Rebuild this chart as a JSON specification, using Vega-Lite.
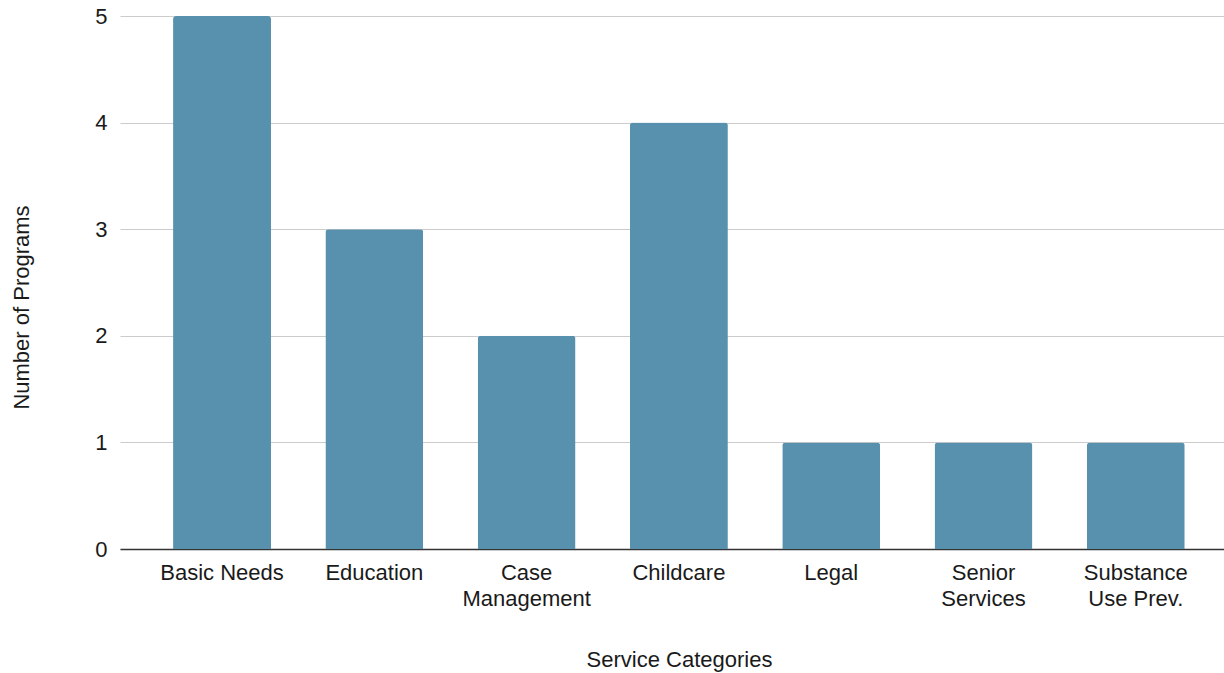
{
  "$schema": "https://vega.github.io/schema/vega-lite/v6.json",
  "width": 1104,
  "height": 533,
  "autosize": {"type": "none"},
  "padding": {"left": 120, "top": 16, "right": 0, "bottom": 124},
  "background": "white",
  "data": {
    "values": [
      {"category": "Basic Needs", "programs": 5},
      {"category": "Education", "programs": 3},
      {"category": "Case Management", "programs": 2},
      {"category": "Childcare", "programs": 4},
      {"category": "Legal", "programs": 1},
      {"category": "Senior Services", "programs": 1},
      {"category": "Substance Use Prev.", "programs": 1}
    ]
  },
  "mark": {
    "type": "bar",
    "color": "#5891ad",
    "cornerRadiusTopLeft": 3,
    "cornerRadiusTopRight": 3
  },
  "encoding": {
    "x": {
      "field": "category",
      "type": "nominal",
      "sort": null,
      "scale": {"paddingInner": 0.357, "paddingOuter": 0.303, "align": 0.575},
      "axis": {
        "title": "Service Categories",
        "labelAngle": 0,
        "labelExpr": "datum.label == 'Case Management' ? ['Case', 'Management'] : datum.label == 'Senior Services' ? ['Senior', 'Services'] : datum.label == 'Substance Use Prev.' ? ['Substance', 'Use Prev.'] : datum.label",
        "labelLineHeight": 26,
        "labelPadding": 13,
        "ticks": false,
        "domainColor": "#333333",
        "domainWidth": 1.5,
        "titleX": 559,
        "titleY": 117,
        "titleBaseline": "alphabetic",
        "titleAnchor": "middle"
      }
    },
    "y": {
      "field": "programs",
      "type": "quantitative",
      "scale": {"domain": [0, 5]},
      "axis": {
        "title": "Number of Programs",
        "values": [0, 1, 2, 3, 4, 5],
        "format": "d",
        "ticks": false,
        "domain": false,
        "labelPadding": 13,
        "gridColor": "#cccccc",
        "gridWidth": 1,
        "titleX": -99,
        "titleY": 291,
        "titleAngle": -90,
        "titleAlign": "center",
        "titleBaseline": "middle"
      }
    }
  },
  "config": {
    "font": "Liberation Sans",
    "view": {"stroke": null},
    "axis": {
      "labelFont": "Liberation Sans",
      "labelFontSize": 22,
      "labelColor": "#1a1a1a",
      "titleFont": "Liberation Sans",
      "titleFontSize": 22,
      "titleFontWeight": "normal",
      "titleColor": "#1a1a1a"
    }
  }
}
